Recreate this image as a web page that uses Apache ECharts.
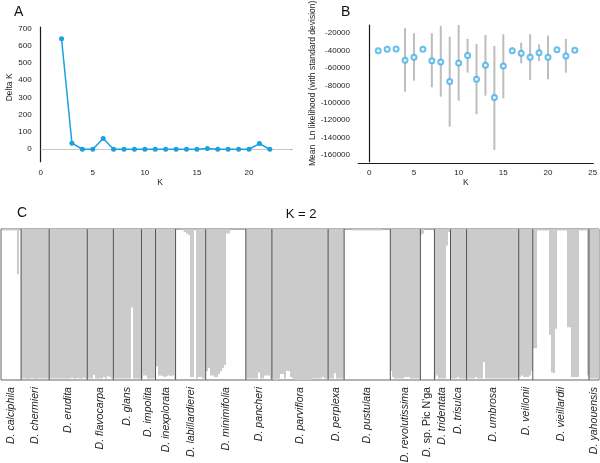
<!DOCTYPE html>
<html>
<head>
<meta charset="utf-8">
<script src="https://cdn.jsdelivr.net/npm/echarts@6/dist/echarts.min.js"></script>
<style>
html,body{margin:0;padding:0;background:#fff;}
#chart{width:600px;height:463px;}
</style>
</head>
<body>
<div id="chart"></div>
<script>
// ---------- Panel A: Delta K ----------
const deltaK_K = [2,3,4,5,6,7,8,9,10,11,12,13,14,15,16,17,18,19,20,21,22];
const deltaK_val = [640,35,0,0,62,0,0,0,0,0,0,0,0,0,5,0,0,0,0,33,0];
const deltaK_yTicks = [0,100,200,300,400,500,600,700];
const deltaK_xTicks = [0,5,10,15,20];

// ---------- Panel B: mean Ln likelihood ----------
const lnL_K = [1,2,3,4,5,6,7,8,9,10,11,12,13,14,15,16,17,18,19,20,21,22,23];
const lnL_mean = [-40000,-38500,-38000,-51000,-47600,-38400,-51500,-53000,-75600,-54200,-45700,-72900,-56800,-94000,-57600,-40000,-43000,-47600,-42300,-47600,-38900,-46100,-39600];
const lnL_high = [-40000,-38500,-38000,-14250,-20000,-38400,-20000,-11600,-23900,-10500,-26500,-32300,-22000,-34600,-21200,-36500,-30800,-21200,-32700,-22700,-38900,-26500,-39600];
const lnL_low  = [-40000,-38500,-38000,-87200,-74500,-38400,-82100,-92900,-127400,-97500,-65300,-113200,-91700,-154200,-94800,-43000,-54500,-73700,-51900,-72900,-38900,-65300,-39600];
const lnL_yTicks = [-20000,-40000,-60000,-80000,-100000,-120000,-140000,-160000];
const lnL_xTicks = [0,5,10,15,20,25];

// ---------- Panel C: STRUCTURE K = 2 ----------
const groupNames = ['calciphila','chermieri','erudita','flavocarpa','glans','impolita','inexplorata','labillardierei','minimifolia','pancheri','parviflora','perplexa','pustulata','revolutissima','sp. Pic N\'ga','tridentata','trisulca','umbrosa','veillonii','vieillardii','yahouensis'];
// white (cluster 1) membership of each individual, group by group
const whiteFraction = [
  [1,0.99,0.99,0.99,0.99,0.99,0.99,0.99,0.70,1],
  [0.01,0.01,0.01,0.005,0.01,0.01,0.01,0.005,0.01,0.01,0.01,0.01,0.01,0.01],
  [0.01,0.01,0.01,0.01,0.01,0.01,0.01,0.01,0.01,0.01,0.01,0.015,0.01,0.01,0.015,0.01,0.01,0.015,0.01],
  [0.01,0.01,0.01,0.035,0.01,0.01,0.01,0.01,0.02,0.01,0.025,0.02,0.01],
  [0.01,0.01,0.01,0.01,0.01,0.01,0.01,0.01,0.01,0.48,0.01,0.01,0.01,0.01],
  [0.01,0.03,0.03,0.01,0.01,0.01,0.01],
  [0.09,0.03,0.03,0.025,0.02,0.025,0.03,0.025,0.03,0.01],
  [1,1,1,0.99,0.98,0.97,0.96,0.02,0.02,1,0.01,0.02,0.02,0.01,0.01],
  [0.06,0.08,0.03,0.03,0.02,0.02,0.04,0.06,0.08,0.1,0.97,0.97,1,1,1,1,1,1,1,1],
  [0.01,0.01,0.01,0.01,0.01,0.01,0.05,0.01,0.01,0.03,0.03,0.03,0.01],
  [0.01,0,0,0.01,0.04,0.04,0.01,0.06,0.06,0.02,0.01,0,0,0,0,0,0,0,0,0,0.01,0.01,0.01,0.01,0.01,0.02,0.01,0.01],
  [0.01,0.01,0.01,0.045,0.01,0.01,0.01,0.01],
  [1,1,1,1,0.99,0.99,0.99,0.99,0.99,0.99,0.99,0.99,0.99,0.99,0.99,0.99,0.99,0.99,0.99,1,1,1,1],
  [0.06,0.02,0.01,0.01,0.01,0.01,0.01,0.02,0.02,0.02,0.01,0.01,0.01,0.01,0.01],
  [0.96,0.97,1,1,1,1,1],
  [0.01,0.03,0.01,0.01,0.01,0.01,0.89,0.98],
  [0.01,0.01,0.01,0.02,0.01,0.01,0.01,0.01],
  [0.01,0.01,0.01,0.01,0.02,0.01,0.01,0.01,0.12,0.01,0.01,0.01,0.01,0.01,0.01,0.01,0.01,0.01,0.01,0.01,0.01,0.01,0.01,0.01,0.01,0.01],
  [0.02,0.03,0.02,0.02,0.02,0.03,0.06],
  [0.21,0.21,0.99,0.99,0.99,0.99,0.99,0.99,0.30,0.05,0.045,0.34,0.99,0.99,0.99,0.99,0.99,0.35,0.35,0.02,0.02,0.02,0.02,0.99,0.99,0.99,0.99,0.03],
  [0.01,0.01,0.01,0.01,0.01]
];

// ---------- build ----------
const FONT = '"Liberation Sans", Arial, Helvetica, sans-serif';
const BLUE = '#1a9fe0';
const individuals = [];
const boundaries = [];
const centers = [];
let idx = 0;
whiteFraction.forEach((g, gi) => {
  const start = idx;
  g.forEach(w => { individuals.push([idx, w]); idx++; });
  centers.push((start + idx) / 2);
  if (gi < whiteFraction.length - 1) boundaries.push(idx);
});
const nInd = idx;

function labelFor(v) {
  for (let i = 0; i < centers.length; i++) {
    if (Math.abs(centers[i] - v) < 0.01) {
      const n = groupNames[i];
      if (n.startsWith('sp.')) return '{i|D.} {n|' + n + '}';
      return '{i|D. ' + n + '}';
    }
  }
  return '';
}
const plainNum = v => String(v);

const axisLineStyle = {color: '#1a1a1a', width: 1.2};
const tickLabel = {fontFamily: FONT, fontSize: 8, color: '#222', formatter: plainNum};

const option = {
  animation: false,
  backgroundColor: '#fff',
  textStyle: {fontFamily: FONT},
  title: [
    {text: 'A', left: 9, top: 0, textStyle: {fontFamily: FONT, fontSize: 14, fontWeight: 'normal', color: '#111'}},
    {text: 'B', left: 336, top: 0, textStyle: {fontFamily: FONT, fontSize: 14, fontWeight: 'normal', color: '#111'}},
    {text: 'C', left: 12, top: 201, textStyle: {fontFamily: FONT, fontSize: 14, fontWeight: 'normal', color: '#111'}},
    {text: 'K = 2', left: 296, textAlign: 'center', top: 203, textStyle: {fontFamily: FONT, fontSize: 13, fontWeight: 'normal', color: '#111'}}
  ],
  grid: [
    {left: 40.7, top: 27, width: 251, height: 134.7, containLabel: false, outerBoundsMode: 'none'},
    {left: 358.3, top: 25, width: 235, height: 136.7, containLabel: false, outerBoundsMode: 'none'},
    {left: 1, top: 229, width: 598, height: 151, containLabel: false, outerBoundsMode: 'none',
     show: true, borderColor: '#666', borderWidth: 1, backgroundColor: 'transparent'}
  ],
  xAxis: [
    {gridIndex: 0, type: 'value', min: 0, max: 24.1, offset: 2,
     axisLine: {show: true, lineStyle: axisLineStyle}, axisTick: {show: false}, splitLine: {show: false},
     axisLabel: Object.assign({customValues: deltaK_xTicks, margin: 5}, tickLabel),
     name: 'K', nameLocation: 'middle', nameGap: 14,
     nameTextStyle: {fontFamily: FONT, fontSize: 8.5, color: '#222', padding: [0, 12, 0, 0]}},
    {gridIndex: 1, type: 'value', min: -1.23, max: 25.07, offset: 2,
     axisLine: {show: true, lineStyle: axisLineStyle}, axisTick: {show: false}, splitLine: {show: false},
     axisLabel: Object.assign({customValues: lnL_xTicks, margin: 5}, tickLabel),
     name: 'K', nameLocation: 'middle', nameGap: 14,
     nameTextStyle: {fontFamily: FONT, fontSize: 8.5, color: '#222', padding: [0, 20, 0, 0]}},
    {gridIndex: 2, type: 'value', min: 0, max: nInd,
     axisLine: {show: false}, axisTick: {show: false}, splitLine: {show: false},
     axisLabel: {customValues: centers, rotate: 90, margin: 7, formatter: labelFor, color: '#222',
       rich: {
         i: {fontFamily: FONT, fontSize: 10.6, fontStyle: 'italic', color: '#222'},
         n: {fontFamily: FONT, fontSize: 10.6, fontStyle: 'normal', color: '#222'}
       }}}
  ],
  yAxis: [
    {gridIndex: 0, type: 'value', min: -72, max: 708, offset: 5,
     axisLine: {show: true, lineStyle: axisLineStyle}, axisTick: {show: false}, splitLine: {show: false},
     axisLabel: Object.assign({customValues: deltaK_yTicks, margin: 4}, tickLabel),
     name: 'Delta K', nameLocation: 'middle', nameGap: 22, nameRotate: 90,
     nameTextStyle: {fontFamily: FONT, fontSize: 8.5, color: '#222', padding: [0, 0, 0, 14]}},
    {gridIndex: 1, type: 'value', min: -167700, max: -10500, offset: 3.3,
     axisLine: {show: true, lineStyle: axisLineStyle}, axisTick: {show: false}, splitLine: {show: false},
     axisLabel: Object.assign({customValues: lnL_yTicks, margin: 5}, tickLabel),
     name: 'Mean  Ln likelihood (with standard devision)', nameLocation: 'middle', nameGap: 38, nameRotate: 90,
     nameTextStyle: {fontFamily: FONT, fontSize: 8.5, color: '#222', padding: [0, 0, 0, 20]}},
    {gridIndex: 2, type: 'value', min: 0, max: 1, show: false, splitLine: {show: false}}
  ],
  series: [
    {type: 'line', xAxisIndex: 0, yAxisIndex: 0, z: 3,
     data: deltaK_K.map((k, i) => [k, deltaK_val[i]]),
     symbol: 'circle', symbolSize: 5, showSymbol: true,
     itemStyle: {color: BLUE}, lineStyle: {color: BLUE, width: 1.5},
     markLine: {silent: true, symbol: 'none', label: {show: false}, z: 1,
       lineStyle: {color: '#c8c8c8', width: 1, type: 'solid'}, data: [{yAxis: 0}]}},
    {type: 'custom', xAxisIndex: 1, yAxisIndex: 1, z: 2,
     data: lnL_K.map((k, i) => [k, lnL_low[i], lnL_high[i]]),
     renderItem: (params, api) => {
       const a = api.coord([api.value(0), api.value(1)]);
       const b = api.coord([api.value(0), api.value(2)]);
       return {type: 'line', shape: {x1: a[0], y1: a[1], x2: b[0], y2: b[1]},
               style: {stroke: '#bdbdbd', lineWidth: 2}};
     }},
    {type: 'scatter', xAxisIndex: 1, yAxisIndex: 1, z: 3,
     data: lnL_K.map((k, i) => [k, lnL_mean[i]]),
     symbol: 'emptyCircle', symbolSize: 5,
     itemStyle: {color: '#3fb0ea', borderColor: '#3fb0ea', borderWidth: 1.4}},
    {type: 'custom', xAxisIndex: 2, yAxisIndex: 2, z: 2, clip: true,
     data: individuals,
     renderItem: (params, api) => {
       const i = api.value(0), w = api.value(1);
       const p0 = api.coord([i, 1]);
       const p1 = api.coord([i + 1, w]);
       const x0 = Math.round(p0[0]), x1 = Math.round(p1[0]);
       return {type: 'rect', shape: {x: x0, y: p0[1], width: Math.max(1, x1 - x0), height: p1[1] - p0[1]},
               style: {fill: '#cbcbcb'}};
     }},
    {type: 'custom', xAxisIndex: 2, yAxisIndex: 2, z: 4,
     data: boundaries.map(b => [b]),
     renderItem: (params, api) => {
       const a = api.coord([api.value(0), 0]);
       const b = api.coord([api.value(0), 1]);
       return {type: 'line', shape: {x1: a[0], y1: a[1], x2: b[0], y2: b[1]},
               style: {stroke: '#555', lineWidth: 1}};
     }}
  ]
};

const chart = echarts.init(document.getElementById('chart'), null, {renderer: 'canvas'});
chart.setOption(option);
</script>
</body>
</html>
